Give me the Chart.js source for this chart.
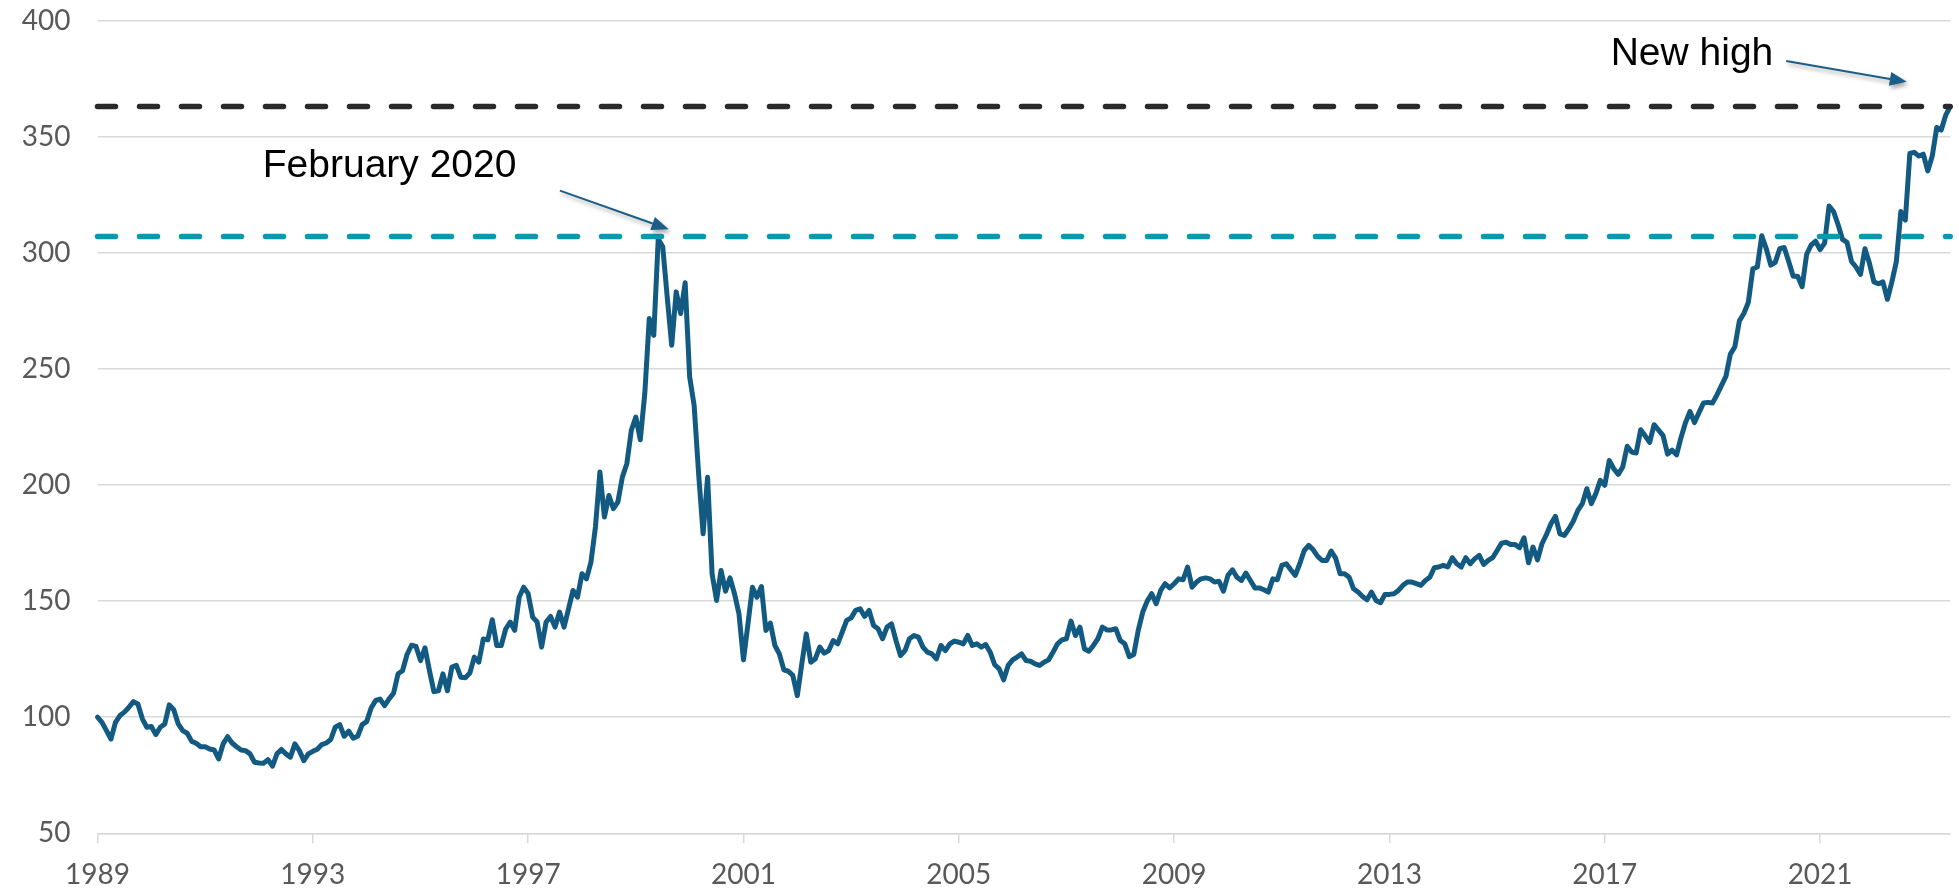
<!DOCTYPE html>
<html>
<head>
<meta charset="utf-8">
<title>Index level since 1989</title>
<script src="https://cdn.jsdelivr.net/npm/chart.js@4.4.1/dist/chart.umd.min.js"></script>
<style>
    html, body { margin: 0; padding: 0; background: #ffffff; }
    #wrap { position: relative; width: 1959px; height: 894px; }
</style>
</head>
<body>
<div id="wrap"><canvas id="levelChart"></canvas></div>
<script>
// --- Data ---
const startYear = 1989;                 // first monthly observation: Jan 1989
const tickYears = [1989, 1993, 1997, 2001, 2005, 2009, 2013, 2017, 2021];
const yTicks = [50, 100, 150, 200, 250, 300, 350, 400];

// monthly index values, one row per year
const indexValues = [
    100, 97.8, 94.2, 90.6, 97.8, 100.7, 102.2, 104.3, 106.7, 105.7, 99.3, 95.7,
    96, 92.5, 95.7, 97.1, 105.3, 103.2, 97.1, 94.2, 93.1, 89.6, 88.8, 87.3,
    87.3, 86.3, 85.9, 82, 88.5, 91.6, 88.9, 87.3, 85.9, 85.6, 84.2, 80.6,
    80.3, 80.2, 81.7, 78.9, 84.2, 86.1, 84.2, 82.8, 88.5, 85.6, 81.3, 84.2,
    85.3, 86.2, 88.2, 88.9, 90.4, 95.7, 96.8, 91.8, 94, 91, 91.8, 96.8,
    98.1, 104, 107.2, 107.8, 105, 107.9, 110.3, 118.7, 120, 127, 131, 130.5,
    124.4, 129.9, 120, 111, 111.4, 118.7, 111.4, 121.6, 122.3, 117.2, 117, 119,
    125.9, 123.7, 133.7, 133.3, 142, 130.9, 130.9, 138, 141, 137.4, 151.7, 156,
    153.2, 143.1, 141, 130.2, 141, 143.4, 138.8, 145.3, 138.8, 146.7, 154.6, 151.7,
    161.8, 159.6, 166.8, 181.9, 205.6, 186.2, 195.5, 189.8, 192.7, 203.4, 209.2, 223.6,
    229.3, 219.5, 239.4, 271.7, 264.5, 306, 302.6, 281, 260.2, 283.2, 273.9, 287.1,
    246.6, 234.3, 204.9, 179, 203.4, 161.8, 150.3, 163.2, 154.3, 160, 153.2, 144.5,
    124.7, 140.2, 156, 151.7, 156.3, 137.4, 140.5, 130.9, 127.3, 120.4, 119.8, 118,
    109.3, 123, 135.9, 123.7, 125.1, 130.2, 127.6, 128.7, 133, 131.6, 136.6, 141.7,
    142.8, 146, 146.7, 143.4, 146, 139.5, 138.1, 133.8, 138.8, 140.2, 133, 126.6,
    128.7, 133.8, 135.2, 134.5, 130.2, 128, 127.3, 125.1, 130.9, 128.7, 131.6, 132.8,
    132.3, 131.6, 135.2, 130.9, 131.6, 130.2, 131.3, 128, 122.6, 120.8, 116.1, 122.3,
    124.7, 125.9, 127.3, 124.4, 124.1, 123, 122.3, 123.7, 124.7, 128, 131.6, 133.3,
    133.8, 141.4, 135.2, 138.8, 129.5, 128.4, 130.9, 133.8, 138.8, 137.6, 137.6, 138.1,
    133, 131.6, 126.1, 127, 137.4, 145.3, 150, 153.2, 148.9, 154.6, 157.5, 155.7,
    157.5, 159.6, 159.2, 164.7, 156, 158.2, 159.6, 160, 159.6, 158.2, 158.6, 154.3,
    161.1, 163.5, 160.3, 158.9, 162.1, 158.9, 155.7, 155.7, 154.9, 153.9, 159.6, 159.2,
    165.4, 166.1, 163.5, 161.1, 166.1, 171.8, 174, 172.1, 169.3, 167.5, 167.5, 171.6,
    168.5, 161.8, 161.8, 160.3, 155.3, 153.9, 152, 150.6, 153.9, 150.3, 149.3, 152.9,
    152.9, 153.2, 154.6, 156.8, 158.2, 158.2, 157.5, 156.8, 158.9, 160.3, 164.4, 164.7,
    165.4, 164.7, 168.7, 166.1, 164.7, 168.7, 166.1, 168.2, 169.7, 165.8, 167.5, 168.7,
    171.8, 175, 175.4, 174.4, 174.4, 173, 177.3, 166.5, 173.3, 167.8, 174.7, 178.7,
    183.3, 186.5, 179, 178.3, 181.2, 184.5, 189.1, 192, 198.4, 192, 196.3, 202,
    199.9, 210.6, 207, 204.6, 207.8, 216.7, 214.2, 213.8, 223.8, 221.2, 218.4, 226,
    223.7, 221.3, 213.3, 215, 213, 220.5, 226.9, 231.7, 226.9, 231.2, 235.3, 235.6,
    235.3, 238.8, 242.8, 246.8, 256.4, 259.6, 270.7, 273.9, 278.7, 293.1, 293.9, 307.4,
    301.8, 294.7, 295.9, 301.8, 302.3, 296.3, 289.9, 289.9, 285.4, 299.4, 303.4, 305,
    301.4, 304.2, 320.2, 317.8, 312.2, 305.8, 304.5, 296.3, 293.9, 290.7, 301.8, 295.5,
    287.5, 286.7, 287.5, 280, 287.5, 296.3, 317.8, 314.1, 342.8, 343.3, 341.7, 342.5,
    335.3, 341.7, 354, 352.9, 359.3, 363
];

const february2020Level = 307;
const newHighLevel = 363;
const noteLabels = ['February 2020', 'New high'];

// --- Build points ---
const endYear = startYear + (indexValues.length - 1) / 12;
const seriesPoints = indexValues.map((v, i) => ({ x: startYear + i / 12, y: v }));
const levelLine = level => [{ x: startYear, y: level }, { x: endYear, y: level }];

// annotation placement in data units (year, index level)
const noteSpots = [
    { text: [1992.07, 332.7], from: [1997.59, 326.8], to: [1999.61, 310.2] },
    { text: [2017.11, 380.9], from: [2020.37, 382.6], to: [2022.61, 373.7] }
];

function drawArrow(ctx, x1, y1, x2, y2) {
    const ang = Math.atan2(y2 - y1, x2 - x1);
    const head = 17, half = 7;
    const bx = x2 - head * Math.cos(ang), by = y2 - head * Math.sin(ang);
    ctx.beginPath();
    ctx.moveTo(x1, y1);
    ctx.lineTo(bx, by);
    ctx.stroke();
    ctx.beginPath();
    ctx.moveTo(x2, y2);
    ctx.lineTo(bx + half * Math.sin(ang), by - half * Math.cos(ang));
    ctx.lineTo(bx - half * Math.sin(ang), by + half * Math.cos(ang));
    ctx.closePath();
    ctx.fill();
}

const notesPlugin = {
    id: 'notes',
    afterDraw(chart) {
        const { ctx, scales: { x, y } } = chart;
        ctx.save();
        ctx.font = '39px "Liberation Sans", Arial, sans-serif';
        ctx.fillStyle = '#000000';
        ctx.textAlign = 'left';
        ctx.textBaseline = 'alphabetic';
        noteSpots.forEach((n, k) => {
            ctx.fillText(noteLabels[k], x.getPixelForValue(n.text[0]), y.getPixelForValue(n.text[1]));
        });
        ctx.strokeStyle = '#1b5e88';
        ctx.fillStyle = '#1b5e88';
        ctx.lineWidth = 2;
        ctx.shadowColor = 'rgba(0,0,0,0.35)';
        ctx.shadowBlur = 4;
        ctx.shadowOffsetX = 2;
        ctx.shadowOffsetY = 3;
        noteSpots.forEach(n => {
            drawArrow(ctx,
                x.getPixelForValue(n.from[0]), y.getPixelForValue(n.from[1]),
                x.getPixelForValue(n.to[0]), y.getPixelForValue(n.to[1]));
        });
        ctx.restore();
    }
};

const tickFont = { family: 'Lato, "Open Sans", sans-serif', size: 28 };
const gridColor = '#d9d9d9';

new Chart(document.getElementById('levelChart'), {
    type: 'line',
    data: {
        datasets: [
            {
                data: levelLine(newHighLevel),
                borderColor: '#2a2a2a',
                borderWidth: 5.5,
                borderDash: [18, 24],
                borderCapStyle: 'round',
                pointRadius: 0,
                clip: false
            },
            {
                data: levelLine(february2020Level),
                borderColor: '#0a98b1',
                borderWidth: 5.5,
                borderDash: [18, 24],
                borderCapStyle: 'round',
                pointRadius: 0,
                clip: false
            },
            {
                data: seriesPoints,
                borderColor: '#125a81',
                borderWidth: 5,
                borderJoinStyle: 'round',
                borderCapStyle: 'round',
                pointRadius: 0,
                tension: 0,
                clip: false
            }
        ]
    },
    options: {
        responsive: true,
        maintainAspectRatio: false,
        animation: false,
        devicePixelRatio: 1,
        layout: { padding: { top: 20.7, right: 8.8, left: 0, bottom: 0 } },
        plugins: {
            legend: { display: false },
            tooltip: { enabled: false }
        },
        scales: {
            x: {
                type: 'linear',
                min: startYear,
                max: endYear,
                afterBuildTicks: scale => { scale.ticks = tickYears.map(v => ({ value: v })); },
                afterFit: scale => { scale.height = 60.7; },
                grid: {
                    drawOnChartArea: false,
                    drawTicks: true,
                    tickLength: 10,
                    color: gridColor,
                    lineWidth: 1.5
                },
                border: { display: true, color: gridColor, width: 1.5 },
                ticks: {
                    color: '#595959',
                    font: tickFont,
                    padding: 15,
                    maxRotation: 0,
                    autoSkip: false,
                    callback: v => String(v)
                }
            },
            y: {
                min: 50,
                max: 400,
                afterBuildTicks: scale => { scale.ticks = yTicks.map(v => ({ value: v })); },
                afterFit: scale => {
                    scale.width = 97.5;
                    scale.paddingTop = 0;
                    scale.paddingBottom = 0;
                },
                grid: {
                    drawTicks: false,
                    color: gridColor,
                    lineWidth: 1.5
                },
                border: { display: false },
                ticks: {
                    color: '#595959',
                    font: tickFont,
                    padding: 27
                }
            }
        }
    },
    plugins: [notesPlugin]
});
</script>
</body>
</html>
